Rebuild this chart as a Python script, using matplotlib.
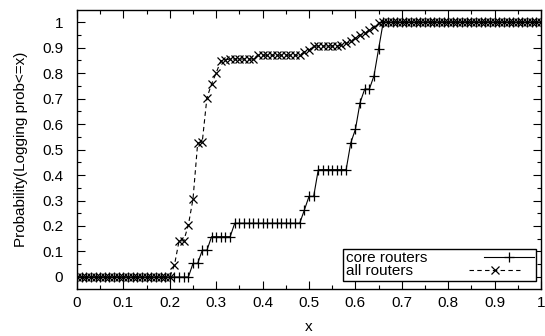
import numpy as np
import matplotlib
matplotlib.use("Agg")
import matplotlib.pyplot as plt
from matplotlib.ticker import MultipleLocator

plt.rcParams['font.family'] = ['Liberation Sans', 'DejaVu Sans']

# x sampled every 0.01 from 0 to 1
x = [round(i * 0.01, 2) for i in range(101)]

# core routers (19 routers)
core_routers = ([0.0] * 25 +
                [0.053, 0.053, 0.105, 0.105, 0.158, 0.158, 0.158, 0.158, 0.158] +
                [0.211] * 15 +
                [0.263, 0.316, 0.316] +
                [0.421] * 7 +
                [0.526, 0.579, 0.684, 0.737, 0.737, 0.789, 0.895] +
                [1.0] * 35)

# all routers
all_routers = ([0.0] * 21 +
               [0.047, 0.142, 0.142, 0.204, 0.306, 0.524, 0.531, 0.703, 0.757,
                0.801, 0.848, 0.852] +
               [0.855] * 6 +
               [0.870] * 10 +
               [0.883, 0.890] +
               [0.906] * 6 +
               [0.910, 0.916, 0.925, 0.936, 0.949, 0.956, 0.969, 0.982, 0.995] +
               [1.0] * 35)

fig = plt.figure(figsize=(5.45, 3.36), dpi=100)
ax = fig.add_axes([0.1413, 0.140, 0.8514, 0.830])

ax.plot(x, core_routers, color='black', lw=0.8, marker='+', ms=7, mew=0.9,
        label='core routers')
ax.plot(x, all_routers, color='black', lw=0.8, ls=(0, (4, 3)), marker='x', ms=5.5,
        mew=0.9, label='all routers')

ax.set_xlim(0, 1)
ax.set_ylim(-0.047, 1.047)
ax.xaxis.set_major_locator(MultipleLocator(0.1))
ax.xaxis.set_minor_locator(MultipleLocator(0.05))
ax.yaxis.set_major_locator(MultipleLocator(0.1))
ax.yaxis.set_minor_locator(MultipleLocator(0.05))
ax.xaxis.set_major_formatter(plt.FuncFormatter(lambda v, p: f'{v:g}'))
ax.yaxis.set_major_formatter(plt.FuncFormatter(lambda v, p: f'{v:g}'))
ax.tick_params(which='both', direction='in', top=True, right=True, labelsize=11,
               color='black', width=0.8)
ax.tick_params(which='major', length=6)
ax.tick_params(which='minor', length=3)
ax.tick_params(axis='x', which='major', pad=5)
ax.tick_params(axis='y', which='major', pad=10)
for s in ax.spines.values():
    s.set_linewidth(1.0)

ax.set_xlabel('x', fontsize=11, labelpad=7)
ax.set_ylabel('Probability(Logging prob<=x)', fontsize=11, labelpad=10)

leg = ax.legend(loc='lower right', markerfirst=False, fontsize=11, frameon=True,
                fancybox=False, edgecolor='black', framealpha=1,
                borderpad=0.15, handlelength=3.3, labelspacing=-0.05,
                handletextpad=3.7, bbox_to_anchor=(0.990, 0.03),
                borderaxespad=0)
leg.get_frame().set_linewidth(1.0)
# gnuplot-style: text left-aligned, sample on the right
for col in leg._legend_handle_box.get_children():
    col.align = 'left'

fig.savefig('out.png', dpi=100)
